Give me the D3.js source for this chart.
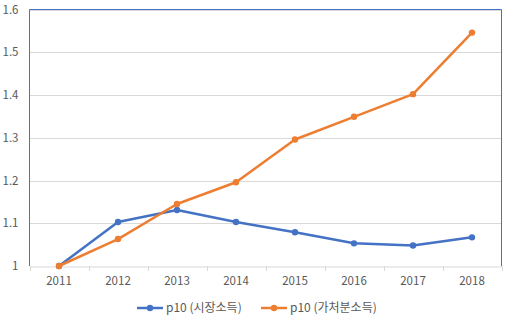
<!DOCTYPE html>
<html><head><meta charset="utf-8">
<script src="https://cdn.jsdelivr.net/npm/d3@7"></script>
<style>body{margin:0;background:#fff}text{font-family:"Noto Sans CJK KR","Noto Sans",sans-serif;}</style>
</head><body><svg id="c" width="507" height="324"></svg>
<script>
const years = ["2011","2012","2013","2014","2015","2016","2017","2018"];
const marketIncome = [1.000,1.103,1.131,1.103,1.079,1.053,1.048,1.067];
const disposableIncome = [1.000,1.063,1.145,1.196,1.296,1.349,1.402,1.546];
const seriesNames = ["p10 (시장소득)","p10 (가처분소득)"];
const colors = ["#4472C4","#ED7D31"];
const yTicks = [1,1.1,1.2,1.3,1.4,1.5,1.6];

const svg = d3.select("#c");
const L=29.5,R=501.5,T=9.5,B=266;
const x = d3.scaleBand().domain(years).range([L,R]);
const y = d3.scaleLinear().domain([1,1.6]).range([B,T]);

// gridlines
svg.append("g").selectAll("line").data(yTicks.slice(1)).join("line")
 .attr("x1",L).attr("x2",R).attr("y1",d=>Math.round(y(d))+0.5).attr("y2",d=>Math.round(y(d))+0.5)
 .attr("stroke","#d9d9d9").attr("stroke-width",1);

// x axis
const xa = svg.append("g").attr("transform",`translate(0,${B+0.5})`)
 .call(d3.axisBottom(x).tickSize(0).tickPadding(10));
xa.select(".domain").attr("stroke","#d9d9d9");
xa.selectAll("text").attr("font-size",11.5).attr("fill","#595959").attr("dy","0.71em");
svg.append("g").selectAll("line").data(d3.range(years.length+1)).join("line")
 .attr("x1",i=>Math.round(L+i*x.step())+0.5).attr("x2",i=>Math.round(L+i*x.step())+0.5)
 .attr("y1",B).attr("y2",B+5).attr("stroke","#d9d9d9");

// y axis labels
const ya = svg.append("g").attr("transform",`translate(${L},0)`)
 .call(d3.axisLeft(y).tickValues(yTicks).tickSize(0).tickPadding(11).tickFormat(d3.format("~g")));
ya.select(".domain").remove();
ya.selectAll("text").attr("font-size",11.5).attr("fill","#595959");

// frame
svg.append("path").attr("d",`M${L},${B}V${T}H${R}V${B}`).attr("fill","none").attr("stroke","#4472C4").attr("stroke-width",1);

const data=[marketIncome,disposableIncome];
const line=d3.line().x((d,i)=>x(years[i])+x.bandwidth()/2).y(d=>y(d));
data.forEach((s,k)=>{
  svg.append("path").datum(s).attr("d",line).attr("fill","none").attr("stroke",colors[k]).attr("stroke-width",2.5).attr("stroke-linejoin","round");
  svg.append("g").selectAll("circle").data(s).join("circle")
   .attr("cx",(d,i)=>x(years[i])+x.bandwidth()/2).attr("cy",d=>y(d)).attr("r",3.2).attr("fill",colors[k]);
});

// legend
const lg=svg.append("g");
const lx=[137,261];
seriesNames.forEach((n,k)=>{
  lg.append("line").attr("x1",lx[k]).attr("x2",lx[k]+26).attr("y1",308).attr("y2",308).attr("stroke",colors[k]).attr("stroke-width",2.5);
  lg.append("circle").attr("cx",lx[k]+13).attr("cy",308).attr("r",3.2).attr("fill",colors[k]);
  lg.append("text").attr("x",lx[k]+29).attr("y",308).attr("dy","0.35em").attr("font-size",12).attr("fill","#595959").text(n);
});
</script></body></html>
